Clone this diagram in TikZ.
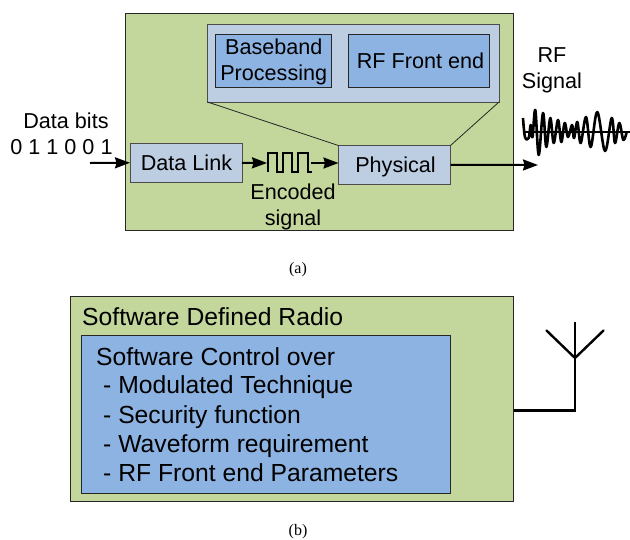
\documentclass[tikz,border=0pt]{standalone}
\usepackage{fontspec}
\setmainfont{Liberation Sans}
\newfontfamily\capfont{Liberation Serif}
\usetikzlibrary{arrows.meta}
\definecolor{outergreen}{HTML}{C3D69B}
\definecolor{paleblue}{HTML}{BDCEE3}
\definecolor{midblue}{HTML}{8DB3E2}
\tikzset{
  panel/.style={draw=#1,line width=0.8pt,inner sep=0pt,outer sep=0pt},
  panel/.default=black!85,
  greenbox/.style={panel,fill=outergreen},
  palebox/.style={panel=black!70,fill=paleblue,align=center},
  bluebox/.style={panel,fill=midblue,align=center},
  boxtext/.style={inner sep=0pt,align=center,font=\fontsize{21.6}{26}\selectfont},
  label/.style={align=center,inner sep=0pt,font=\fontsize{21.6}{26}\selectfont},
  bigtext/.style={anchor=west,inner sep=0pt,font=\fontsize{24.7}{28}\selectfont},
  captiontext/.style={inner sep=0pt,font=\capfont\fontsize{16}{18}\selectfont},
  flow/.style={line width=2pt,-{Stealth[length=15pt,width=11pt,inset=1.5pt]}},
  wire/.style={line width=2pt,line join=miter},
  aerial/.style={line width=2.4pt,line cap=round,line join=round},
}
\begin{document}
\begin{tikzpicture}[x=1pt,y=-1pt]
\useasboundingbox (0,0) rectangle (630,539);
% --- (a)
\node[greenbox,minimum width=388.5pt,minimum height=217pt] (outerA) at (319.25,122) {};
\node[panel=black!70,fill=paleblue,minimum width=291.5pt,minimum height=77.5pt] (inner) at (353.25,63.25) {};
\node[bluebox,minimum width=116.5pt,minimum height=53pt] (base) at (273.25,61) {};
\node[boxtext] (basetext) at (273.75,62) {Baseband\\Processing};
\node[bluebox,minimum width=141pt,minimum height=53pt] (rf) at (418.5,61) {};
\node[boxtext] (rftext) at (420.5,60.5) {RF Front end};
\node[palebox,minimum width=112pt,minimum height=38.5pt] (link) at (186,162.75) {};
\node[boxtext] (linktext) at (186.5,163) {Data Link};
\node[palebox,minimum width=112pt,minimum height=38.5pt] (phys) at (394.5,164.75) {};
\node[boxtext] (phystext) at (395.5,166.5) {Physical};
\draw[line width=0.8pt,black!85] (inner.south west) -- (phys.north west);
\draw[line width=0.8pt,black!85] (inner.south east) -- (phys.north east);
\node[label] (bits) at (66,121) {Data bits};
\node[label] (bitvals) at (61.5,147.5) {0 1 1 0 0 1};
\node[label] (enc) at (293,206.5) {Encoded\\signal};
\node[label] (rfsig) at (552,70.5) {RF\\Signal};
\coordinate (inStart) at (90,163);
\coordinate (sqL) at (267,163);
\coordinate (sqR) at (311,163);
\coordinate (outEnd) at (538,165);
\draw[flow] (inStart) -- (link.west);
\draw[flow] (link.east) -- (sqL);
\draw[flow] (sqR) -- (phys.west |- sqR);
\draw[flow] (phys.east) -- (outEnd);
\draw[wire] (268,172) -- (268,153) -- (277,153) -- (277,172) -- (283,172) -- (283,153) -- (292,153) -- (292,172) -- (298,172) -- (298,153) -- (308,153) -- (308,172) -- (312,172);
% RF waveform
\draw[line width=1.5pt] (525,132) -- (630,132);
\draw[line width=2.6pt,line join=round] plot[smooth,tension=0.6] coordinates {
(523,118) (525,137) (528.7,138) (530.7,125) (532.5,137) (535.3,110) (538.7,155) (543,113) (546.3,147) (550.3,118)
(553.7,143) (558,120) (561.3,142) (564.7,123) (568,137) (572,125) (574,138) (577.3,122) (580.7,143) (586,117)
(590.7,147) (597.3,112) (605,151) (611.7,118) (615,143) (619.3,123) (623.3,140) (626.7,132)};
% --- (b)
\node[captiontext] (capA) at (298,269.5) {(a)};
\node[greenbox,minimum width=443.5pt,minimum height=205pt] (outerB) at (291.75,398.5) {};
\node[panel,fill=midblue,minimum width=369.5pt,minimum height=158pt] (blueB) at (265.75,414) {};
\node[bigtext] (title) at (82,317) {Software Defined Radio};
\node[bigtext] (l1) at (96,357) {Software Control over};
\node[bigtext] (l2) at (103,387) {- Modulated Technique};
\node[bigtext] (l3) at (103,417) {- Security function};
\node[bigtext] (l4) at (103,446) {- Waveform requirement};
\node[bigtext] (l5) at (103,473) {- RF Front end Parameters};
\node[captiontext] (capB) at (298,532) {(b)};
\coordinate (antBase) at (575,358);
\coordinate (antCorner) at (575,410.5);
\coordinate (antTop) at (575,322);
\coordinate (antL) at (546.5,330.5);
\coordinate (antR) at (603.5,330.5);
\draw[aerial,line cap=butt,line join=miter] (outerB.east |- antCorner) -- (antCorner) -- (antTop);
\draw[aerial] (antL) -- (antBase) -- (antR);
\end{tikzpicture}
\end{document}
